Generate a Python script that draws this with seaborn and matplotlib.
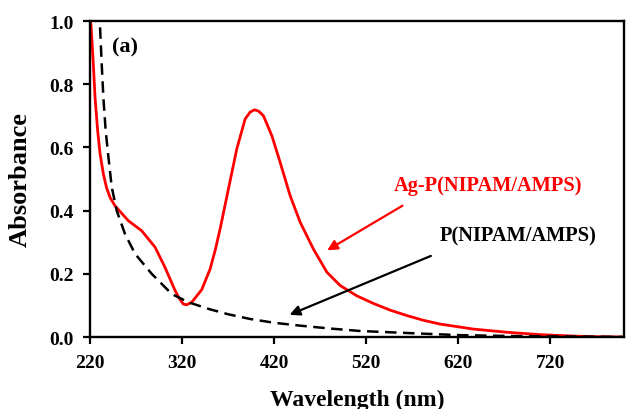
import matplotlib
matplotlib.use("Agg")
import matplotlib.pyplot as plt
import seaborn as sns
import pandas as pd

# Ag-P(NIPAM/AMPS) spectrum (red)
ag_wl = [220, 221, 223.6, 225.4, 228.3, 230.9, 234.5, 238, 242, 247.2, 261.6, 276.2, 290.7, 301.5,
         312.4, 317, 321.4, 325, 330.5, 341.4, 350.4, 356, 361.3, 370.3, 379.4, 388.5, 394, 398.6,
         403, 408.4, 417.5, 426.5, 437.4, 448.3, 462.7, 477.3, 491.7, 510, 528, 546, 564, 582,
         600, 636.6, 673, 709, 745, 770, 800]
ag_abs = [1.0, 0.99, 0.864, 0.76, 0.653, 0.58, 0.516, 0.472, 0.44, 0.415, 0.368, 0.336, 0.284, 0.22,
          0.147, 0.122, 0.104, 0.102, 0.11, 0.150, 0.215, 0.275, 0.342, 0.468, 0.595, 0.69, 0.712, 0.719,
          0.715, 0.70, 0.637, 0.553, 0.447, 0.363, 0.278, 0.205, 0.163, 0.13, 0.106, 0.085, 0.068, 0.053,
          0.041, 0.025, 0.015, 0.0075, 0.003, 0.001, 0.0]

# P(NIPAM/AMPS) spectrum (black dashed)
p_wl = [230.9, 232.7, 234.5, 237, 240, 243.6, 249, 258, 269, 287, 308.8, 326.9, 348.6,
        370, 394, 420, 448, 480, 513.5, 564, 620, 680, 740, 800]
p_abs = [0.98, 0.864, 0.758, 0.653, 0.569, 0.474, 0.40, 0.326, 0.263, 0.20, 0.136, 0.11, 0.089,
         0.072, 0.057, 0.045, 0.036, 0.027, 0.019, 0.0127, 0.006, 0.003, 0.0015, 0.0]

x_ticks = [220, 320, 420, 520, 620, 720]
y_ticks = [0.0, 0.2, 0.4, 0.6, 0.8, 1.0]

sns.set_style("white")
plt.rcParams['font.family'] = ['Liberation Serif', 'DejaVu Serif']
plt.rcParams['font.weight'] = 'bold'
plt.rcParams['text.color'] = 'black'
plt.rcParams['axes.labelcolor'] = 'black'
plt.rcParams['xtick.color'] = 'black'
plt.rcParams['ytick.color'] = 'black'

fig = plt.figure(figsize=(6.26, 4.10), dpi=100)
ax = fig.add_axes([0.1438, 0.1756, 0.8530, 0.7707])

df_ag = pd.DataFrame({"wl": ag_wl, "abs": ag_abs})
df_p = pd.DataFrame({"wl": p_wl, "abs": p_abs})
sns.lineplot(data=df_ag, x="wl", y="abs", ax=ax, color="#ff0000", linewidth=2.0)
sns.lineplot(data=df_p, x="wl", y="abs", ax=ax, color="black", linewidth=1.8,
             linestyle=(0, (4.6, 2.6)))

ax.set_xlim(220, 800)
ax.set_ylim(0, 1.0)
ax.set_xticks(x_ticks)
ax.set_yticks(y_ticks)
ax.set_xticklabels([str(t) for t in x_ticks])
ax.set_yticklabels([f"{t:.1f}" for t in y_ticks])
ax.tick_params(axis='both', direction='out', length=5, width=1.6, colors='black',
               labelsize=14, bottom=True, left=True)
ax.tick_params(axis='x', pad=7)
ax.tick_params(axis='y', pad=7)
for lab in ax.get_xticklabels() + ax.get_yticklabels():
    lab.set_fontweight('bold')
for s in ax.spines.values():
    s.set_visible(True)
    s.set_color('black')
    s.set_linewidth(1.7)

ax.set_xlabel("Wavelength (nm)", fontsize=17, fontweight='bold', labelpad=13)
ax.set_ylabel("Absorbance", fontsize=19, fontweight='bold', labelpad=12)

ax.text(244, 0.92, "(a)", fontsize=16, fontweight='bold', ha='left', va='center')

ax.annotate("", xy=(475, 0.27), xytext=(562, 0.42),
            arrowprops=dict(arrowstyle='-|>', color='#ff0000', lw=1.6, mutation_scale=15))
ax.text(652, 0.48, "Ag-P(NIPAM/AMPS)", color='#ff0000', fontsize=14.7, fontweight='bold',
        ha='center', va='center')

ax.annotate("", xy=(434, 0.067), xytext=(593, 0.26),
            arrowprops=dict(arrowstyle='-|>', color='black', lw=1.6, mutation_scale=15))
ax.text(685, 0.32, "P(NIPAM/AMPS)", color='black', fontsize=14.7, fontweight='bold',
        ha='center', va='center')

fig.savefig("out.png", dpi=100)
